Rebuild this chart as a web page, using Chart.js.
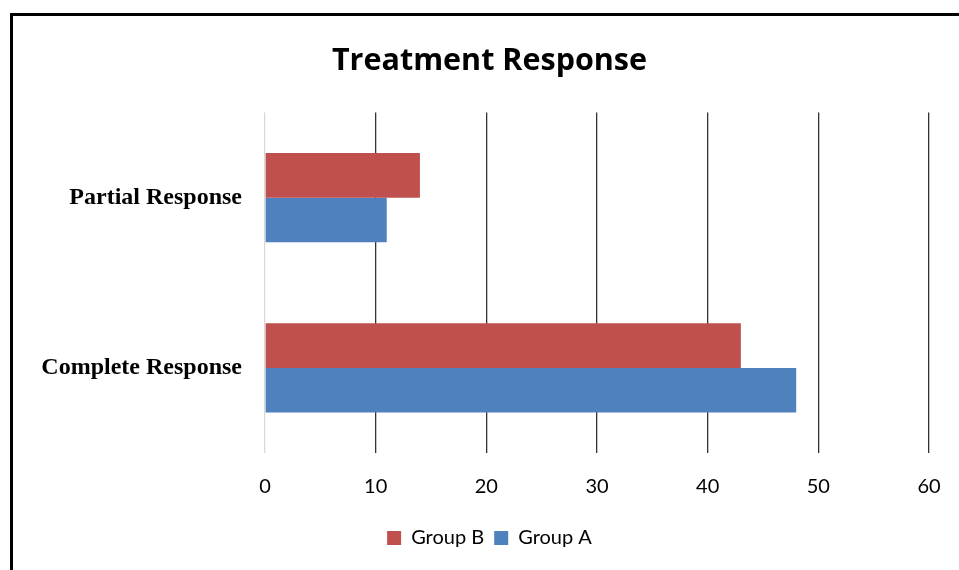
<!DOCTYPE html>
<html>
<head>
<meta charset="utf-8">
<script src="https://cdn.jsdelivr.net/npm/chart.js@4.4.0/dist/chart.umd.min.js"></script>
<style>
  html, body { margin: 0; padding: 0; background: #fff; }
  #wrap { width: 959px; height: 570px; position: relative; }
</style>
</head>
<body>
<div id="wrap"><canvas id="responseChart"></canvas></div>
<script>
const categories = ['Partial Response', 'Complete Response'];
const groupB = [14, 43];
const groupA = [11, 48];
const xTicks = [0, 10, 20, 30, 40, 50, 60];

// frame around the chart (right and bottom edges run off the picture)
const framePlugin = {
  id: 'frame',
  afterDraw(chart) {
    const c = chart.ctx;
    c.save();
    c.strokeStyle = '#000';
    c.lineWidth = 3;
    c.beginPath();
    c.moveTo(11.5, 600);
    c.lineTo(11.5, 14.5);
    c.lineTo(1000, 14.5);
    c.stroke();
    c.restore();
  }
};

const ctx = document.getElementById('responseChart').getContext('2d');
const responseChart = new Chart(ctx, {
  type: 'bar',
  data: {
    labels: categories,
    datasets: [{
      label: 'Group B',
      data: groupB,
      backgroundColor: '#C0504D',
      categoryPercentage: 0.524,
      barPercentage: 1
    }, {
      label: 'Group A',
      data: groupA,
      backgroundColor: '#4F81BD',
      categoryPercentage: 0.524,
      barPercentage: 1
    }]
  },
  options: {
    indexAxis: 'y',
    responsive: true,
    maintainAspectRatio: false,
    animation: false,
    layout: { padding: { left: 20, right: 0, top: 0, bottom: 12 } },
    scales: {
      x: {
        min: 0,
        max: 60,
        afterBuildTicks: s => { s.ticks = xTicks.map(v => ({ value: v })); },
        afterFit: s => { s.height = 65; s.paddingRight = 30; },
        border: { display: false },
        grid: {
          drawTicks: false,
          color: c => c.tick && c.tick.value === 0 ? '#d9d9d9' : '#333333',
          lineWidth: 1.3
        },
        ticks: {
          padding: 22,
          color: '#000',
          font: { family: 'Lato', size: 20 }
        }
      },
      y: {
        afterFit: s => { s.width = 245; },
        border: { display: false },
        grid: { display: false, drawTicks: false },
        ticks: {
          padding: 23,
          color: '#000',
          font: { family: 'Liberation Serif', size: 24, weight: 'bold' }
        }
      }
    },
    plugins: {
      title: {
        display: true,
        text: 'Treatment Response',
        color: '#000',
        font: { family: 'Open Sans', size: 30.5, weight: 'bold', lineHeight: 1.2 },
        padding: { top: 43, bottom: 33 }
      },
      legend: {
        position: 'bottom',
        labels: {
          boxWidth: 14,
          boxHeight: 14,
          padding: 10,
          color: '#000',
          font: { family: 'Lato', size: 20 }
        }
      },
      tooltip: { enabled: false }
    }
  },
  plugins: [framePlugin]
});
</script>
</body>
</html>
